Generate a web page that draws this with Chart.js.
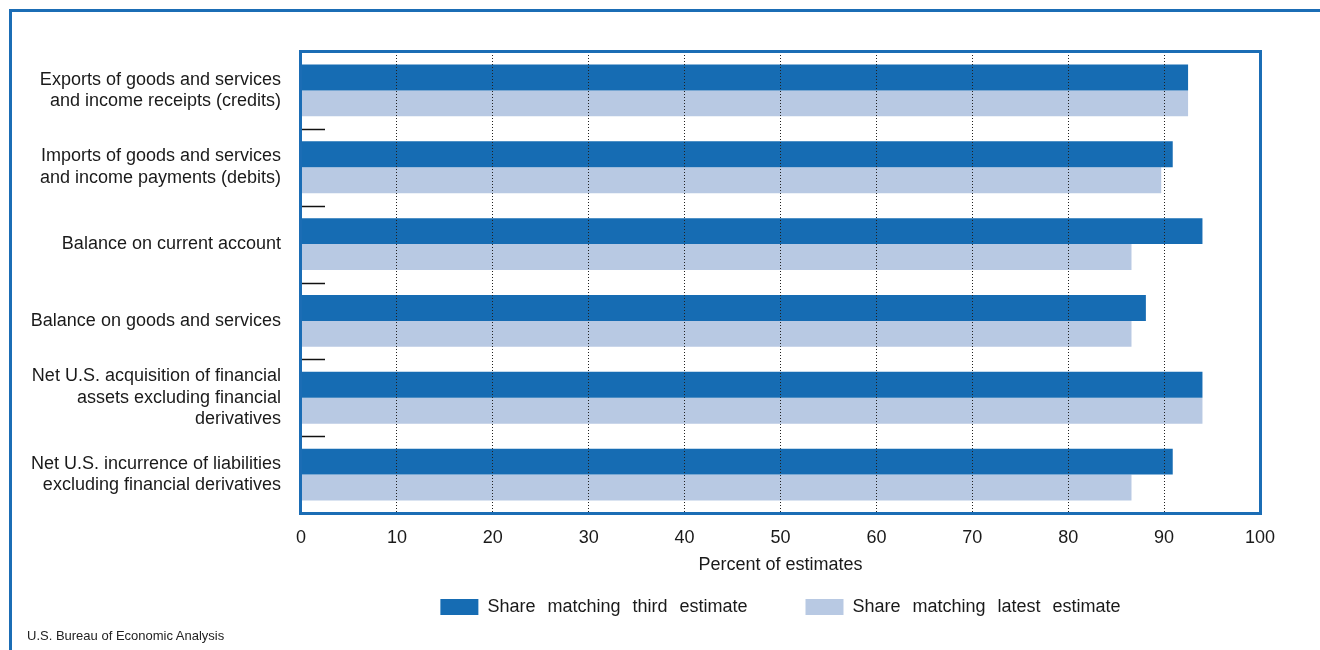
<!DOCTYPE html>
<html><head><meta charset="utf-8">
<script src="https://cdn.jsdelivr.net/npm/chart.js@4.4.0/dist/chart.umd.min.js"></script>
<style>
html,body{margin:0;padding:0;background:#fff;}
#wrap{position:relative;width:1320px;height:650px;overflow:hidden;background:#fff;}
#frame{position:absolute;left:9px;top:9px;width:1330px;height:660px;border-top:3px solid #1b6db5;border-left:3px solid #1b6db5;}
#src{position:absolute;left:27px;top:628px;font:13px "Liberation Sans Narrow","Liberation Sans",Arial,sans-serif;color:#222;white-space:nowrap;}
canvas{position:absolute;left:0;top:0;}
</style></head><body>
<div id="wrap"><div id="frame"></div><canvas id="c" width="1320" height="650"></canvas><div id="src">U.S. Bureau of Economic Analysis</div></div>
<script>
const categories = [
  ["Exports of goods and services", "and income receipts (credits)"],
  ["Imports of goods and services", "and income payments (debits)"],
  "Balance on current account",
  "Balance on goods and services",
  ["Net U.S. acquisition of financial", "assets excluding financial", "derivatives"],
  ["Net U.S. incurrence of liabilities", "excluding financial derivatives"]
];
const thirdEstimate = [92.5, 90.9, 94.0, 88.1, 94.0, 90.9];
const latestEstimate = [92.5, 89.7, 86.6, 86.6, 94.0, 86.6];
const seriesNames = ["Share matching third estimate", "Share matching latest estimate"];
const xAxisTitle = "Percent of estimates";

const FONT = "'Liberation Sans', Arial, Helvetica, sans-serif";
const BLUE = "#166cb3";
const LIGHT = "#b8c9e3";
const FRAME = "#1b6db5";
const LEGEND_GAP = 58;      // horizontal gap between legend items
const LEGEND_SHIFT = 34;    // pull legend items up (padding is also used vertically)
const WORD_SPACING = '7px';

const boxPlugin = {
  id: 'boxPlugin',
  beforeLayout(chart) {
    const lg = chart.legend;
    if (lg && !lg._patched) {
      lg._patched = true;
      const origFit = lg.fit.bind(lg);
      const origDraw = lg.draw.bind(lg);
      lg.fit = function () {
        const c = this.ctx; c.wordSpacing = WORD_SPACING;
        origFit();
        c.wordSpacing = '0px';
        if (this.isHorizontal()) this.height -= LEGEND_SHIFT + 4;
      };
      lg.draw = function () {
        const c = this.ctx; c.wordSpacing = WORD_SPACING;
        const t = this.top;
        this.top = t - LEGEND_SHIFT;
        origDraw();
        this.top = t;
        c.wordSpacing = '0px';
      };
    }
  },
  afterDraw(chart) {
    const ctx = chart.ctx, a = chart.chartArea, y = chart.scales.y;
    ctx.save();
    ctx.strokeStyle = '#111';
    ctx.lineWidth = 1.5;
    for (let i = 0; i < categories.length - 1; i++) {
      const py = Math.round((y.getPixelForValue(i) + y.getPixelForValue(i + 1)) / 2) + 0.5;
      ctx.beginPath();
      ctx.moveTo(a.left + 1, py);
      ctx.lineTo(a.left + 24, py);
      ctx.stroke();
    }
    ctx.strokeStyle = FRAME;
    ctx.lineWidth = 3;
    ctx.strokeRect(a.left - 0.5, a.top - 0.5, a.right - a.left + 1, a.bottom - a.top + 1);
    ctx.restore();
  }
};

new Chart(document.getElementById('c'), {
  type: 'bar',
  data: {
    labels: categories,
    datasets: [
      { label: seriesNames[0], data: thirdEstimate, backgroundColor: BLUE, borderWidth: 0,
        barPercentage: 1, categoryPercentage: 0.675 },
      { label: seriesNames[1], data: latestEstimate, backgroundColor: LIGHT, borderWidth: 0,
        barPercentage: 1, categoryPercentage: 0.675 }
    ]
  },
  options: {
    indexAxis: 'y',
    responsive: false,
    animation: false,
    layout: { padding: { top: 52, right: 60, left: 0, bottom: 28 } },
    scales: {
      x: {
        min: 0, max: 100,
        ticks: { stepSize: 10, color: '#1a1a1a', font: { family: FONT, size: 18, lineHeight: 1 }, padding: 16 },
        grid: {
          drawTicks: false, z: 1, lineWidth: 1,
          color: (c) => (c.tick && (c.tick.value === 0 || c.tick.value === 100)) ? 'rgba(0,0,0,0)' : '#222'
        },
        border: { display: false, dash: [1, 2] },
        title: { display: true, text: xAxisTitle, color: '#1a1a1a', font: { family: FONT, size: 18, lineHeight: 1 }, padding: { top: 0, bottom: 0 } },
        afterFit: (s) => { s.height = s.height - 7; }
      },
      y: {
        grid: { display: false, drawTicks: false },
        border: { display: false },
        ticks: { color: '#1a1a1a', font: { family: FONT, size: 18, lineHeight: 1.2 }, padding: 20 },
        afterFit: (s) => { s.width = 301; }
      }
    },
    plugins: {
      legend: {
        position: 'bottom',
        fullSize: false,
        labels: { boxWidth: 38, boxHeight: 16, padding: LEGEND_GAP, color: '#1a1a1a', font: { family: FONT, size: 18 } }
      },
      tooltip: { enabled: false }
    }
  },
  plugins: [boxPlugin]
});
</script>
</body></html>
